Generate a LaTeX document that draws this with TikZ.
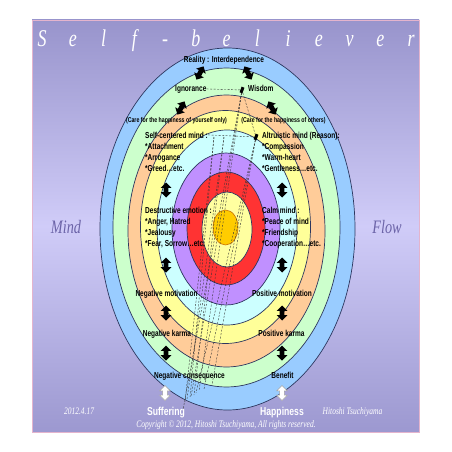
\documentclass[tikz,border=0pt]{standalone}
\usepackage{fontspec}
\usetikzlibrary{shapes.arrows}
\newfontfamily\labfont[FakeStretch=0.75]{Liberation Sans}
\newfontfamily\calfont[FakeStretch=0.75]{Liberation Serif}
\definecolor{bgtop}{RGB}{152,148,204}
\definecolor{bgmid}{RGB}{208,204,248}
\definecolor{bgbot}{RGB}{156,152,208}
\definecolor{bgedge}{RGB}{228,180,205}
\definecolor{ringline}{RGB}{45,55,95}
\definecolor{cblue}{RGB}{153,204,255}
\definecolor{cgreen}{RGB}{204,255,204}
\definecolor{corange}{RGB}{255,204,153}
\definecolor{cyellow}{RGB}{255,255,153}
\definecolor{ccyan}{RGB}{204,255,255}
\definecolor{cpurple}{RGB}{192,144,255}
\definecolor{cred}{RGB}{255,51,51}
\definecolor{cpale}{RGB}{255,255,160}
\definecolor{cgold}{RGB}{255,204,0}
\definecolor{goldline}{RGB}{200,110,0}
\definecolor{mindcol}{RGB}{108,100,168}
\begin{document}
\begin{tikzpicture}[x=1pt,y=-1pt,
  ring/.style={draw=ringline, line width=0.7pt},
  lbl/.style={font=\labfont\bfseries\fontsize{8.7}{10}\selectfont, inner sep=0, text=black},
  care/.style={font=\labfont\bfseries\fontsize{7}{8}\selectfont, inner sep=0, text=black},
  big/.style={font=\labfont\bfseries\fontsize{11.5}{13}\selectfont, inner sep=0, text=white},
  foot/.style={font=\calfont\itshape\fontsize{10}{12}\selectfont, inner sep=0, text=white},
  side/.style={font=\calfont\itshape\fontsize{19}{22}\selectfont, inner sep=0, text=mindcol},
  ttl/.style={font=\calfont\itshape\fontsize{24}{28}\selectfont, inner sep=0, text=white},
  barrow/.style={double arrow, fill=black, draw=none, minimum height=15pt, minimum width=10pt,
    inner sep=2.2pt, double arrow head extend=3pt},
  warrow/.style={double arrow, fill=white, draw=gray!70, line width=0.5pt, minimum height=15pt,
    minimum width=10pt, inner sep=2.2pt, double arrow head extend=3pt},
  hatch/.style={draw=black!80, line width=0.4pt, dash pattern=on 2pt off 1.5pt},
  tip/.style={fill=black, inner sep=0, minimum width=3pt, minimum height=6pt}
]
\useasboundingbox (0,0) rectangle (452,452);
\fill[white] (0,0) rectangle (452,452);
\shade[top color=bgtop, bottom color=bgbot, middle color=bgmid] (32,20) rectangle (419,432);
\draw[bgedge, line width=0.8pt] (32,20) rectangle (419,432);

% title
\foreach \c [count=\i] in {S,e,l,f,-,b,e,l,i,e,v,e,r}
  \node[ttl, anchor=base] (t\i) at ({42+30.75*(\i-1)},47) {\c};

% rings
\path[ring, fill=cblue]   (227.5,229)   ellipse [x radius=127.5, y radius=181];
\path[ring, fill=cgreen]  (226.5,227.5) ellipse [x radius=113.5, y radius=159.5];
\path[ring, fill=corange] (226.5,231)   ellipse [x radius=98.5,  y radius=136];
\path[ring, fill=cyellow] (225.5,227)   ellipse [x radius=85,    y radius=116.5];
\path[ring, fill=ccyan]   (227,227.5)   ellipse [x radius=70,    y radius=97.5];
\path[ring, fill=cpurple] (226,229)     ellipse [x radius=54,    y radius=76];
\path[ring, fill=cred]    (226,228.5)   ellipse [x radius=39,    y radius=56.5];
\path[ring, fill=cpale]   (227,229.5)   ellipse [x radius=25,    y radius=37.5];
\path[draw=goldline, line width=0.6pt, fill=cgold] (225.5,227.5) ellipse [x radius=12.5, y radius=17.5];

% side words
\node[side] (mind) at (66,227) {Mind};
\node[side] (flow) at (387,227) {Flow};

% converging points
\node[tip, rotate=-20] (A) at (242,90) {};
\node[tip, rotate=-20] (B) at (256,137) {};

% labels
\node[lbl, anchor=base] (reality) at (224,63) {Reality : Interdependence};
\node[lbl, anchor=base west] (ign) at (175,91) {Ignorance};
\node[lbl, anchor=base west] (wis) at (248,91) {Wisdom};
\node[care, anchor=base] (careL) at (176.5,122.5) {(Care for the happiness of yourself only)};
\node[care, anchor=base] (careR) at (283.5,122.5) {(Care for the happiness of others)};

\node[lbl, anchor=base west] (selfc) at (145,138) {Self-centered mind :};
\node[lbl, anchor=base west] (att) at (145,149) {*Attachment};
\node[lbl, anchor=base west] (arr) at (145,160) {*Arrogance};
\node[lbl, anchor=base west] (gre) at (145,171) {*Greed…etc.};
\node[lbl, anchor=base west] (alt) at (262,138) {Altruistic mind (Reason):};
\node[lbl, anchor=base west] (com) at (262,149) {*Compassion};
\node[lbl, anchor=base west] (war) at (262,160) {*Warm-heart};
\node[lbl, anchor=base west] (gen) at (262,171) {*Gentleness…etc.};

\node[lbl, anchor=base west] (des) at (145,213) {Destructive emotion :};
\node[lbl, anchor=base west] (ang) at (145,224) {*Anger, Hatred};
\node[lbl, anchor=base west] (jea) at (145,235) {*Jealousy};
\node[lbl, anchor=base west] (fea) at (145,246) {*Fear, Sorrow…etc.};
\node[lbl, anchor=base west] (cal) at (262,213) {Calm mind :};
\node[lbl, anchor=base west] (pea) at (262,224) {*Peace of mind};
\node[lbl, anchor=base west] (fri) at (262,235) {*Friendship};
\node[lbl, anchor=base west] (coo) at (262,246) {*Cooperation…etc.};

\node[lbl, anchor=base] (negm) at (166.5,296) {Negative motivation};
\node[lbl, anchor=base] (posm) at (282,296) {Positive motivation};
\node[lbl, anchor=base] (negk) at (167,336) {Negative karma};
\node[lbl, anchor=base] (posk) at (281.5,336) {Positive karma};
\node[lbl, anchor=base] (negc) at (189.5,378) {Negative consequence};
\node[lbl, anchor=base] (ben) at (282.5,378) {Benefit};

\node[big, anchor=base] (suf) at (166,415) {Suffering};
\node[big, anchor=base] (hap) at (282,415) {Happiness};
\node[foot, anchor=base] (date) at (79,414) {2012.4.17};
\node[foot, anchor=base] (auth) at (352.5,414) {Hitoshi Tsuchiyama};
\node[foot, anchor=base] (copy) at (226,427) {Copyright © 2012, Hitoshi Tsuchiyama, All rights reserved.};

% dashed links
\draw[hatch] (ign.east) -- (A);
\draw[hatch] (selfc.east) -- (B);
\coordinate (c1) at (224,137);
\coordinate (c2) at (214,137);
\coordinate (e1) at (183,410);
\coordinate (e2) at (191,397);
\coordinate (e3) at (199,391);
\coordinate (f1) at (196,393);
\coordinate (f2) at (204,389);
\coordinate (f3) at (212,385);
\coordinate (g1) at (187,399);
\coordinate (g2) at (194,395);
\coordinate (h1) at (185,402);
\coordinate (h2) at (190,398);
\draw[hatch] (A) -- (e1);
\draw[hatch] (A) -- (e2);
\draw[hatch] (A) -- (e3);
\draw[hatch] (A) -- (B);
\draw[hatch] (B) -- (f1);
\draw[hatch] (B) -- (f2);
\draw[hatch] (B) -- (f3);
\draw[hatch] (c1) -- (g1);
\draw[hatch] (c1) -- (g2);
\draw[hatch] (c2) -- (h1);
\draw[hatch] (c2) -- (h2);

% arrows
\node[barrow, rotate=62]  (ar1) at (200,73) {};
\node[barrow, rotate=118] (ar2) at (248,73) {};
\node[barrow, rotate=62]  (ar3) at (181,108) {};
\node[barrow, rotate=118] (ar4) at (272,108) {};
\node[barrow, rotate=90] (av1) at (166,190) {};
\node[barrow, rotate=90] (av2) at (282,190) {};
\node[barrow, rotate=90] (av3) at (166,265) {};
\node[barrow, rotate=90] (av4) at (282,265) {};
\node[barrow, rotate=90] (av5) at (166,313) {};
\node[barrow, rotate=90] (av6) at (282,313) {};
\node[barrow, rotate=90] (av7) at (166,353) {};
\node[barrow, rotate=90] (av8) at (282,353) {};
\node[warrow, rotate=90] (aw1) at (165,393) {};
\node[warrow, rotate=90] (aw2) at (282,393) {};
\end{tikzpicture}
\end{document}
